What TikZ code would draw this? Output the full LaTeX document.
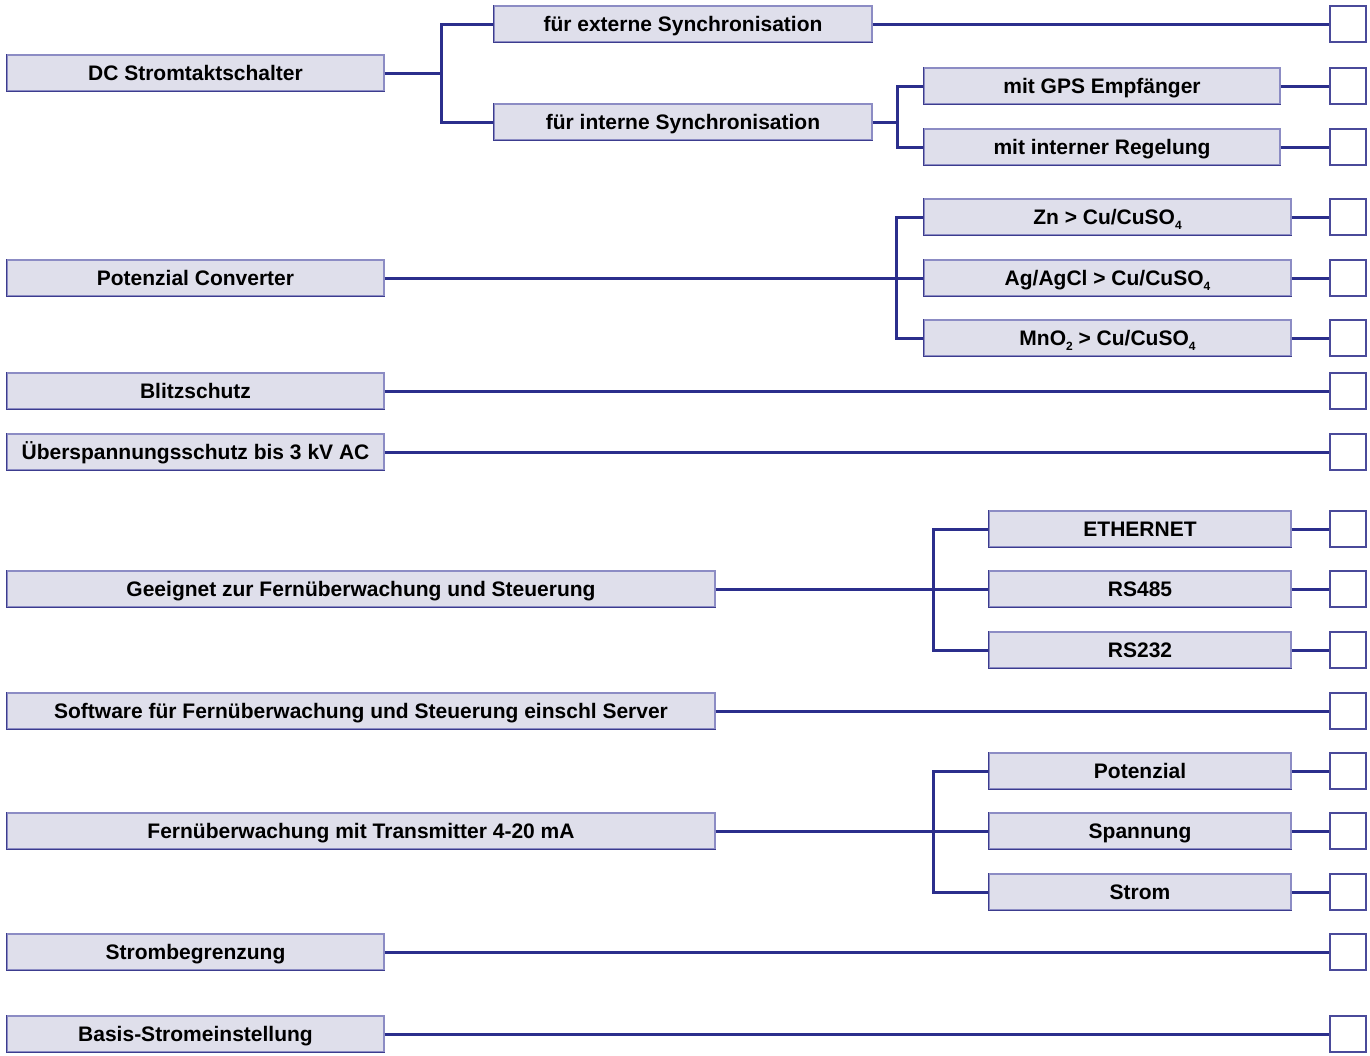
\documentclass[tikz,border=0pt]{standalone}
\usepackage{fontspec}
\setmainfont{Liberation Sans}
\usetikzlibrary{positioning}

\definecolor{boxfill}{HTML}{DFDFEB}
\definecolor{boxline}{HTML}{8C8CC4}
\definecolor{boxshade}{HTML}{3C3C8E}
\definecolor{wire}{HTML}{2B2E8C}
\definecolor{checkline}{HTML}{4A4A9A}

\newcommand{\lowidx}[1]{\raisebox{-0.45ex}{\fontsize{12}{12}\selectfont #1}}

\begin{document}
\begin{tikzpicture}[x=1pt,y=-1pt,
	main node/.style={draw=boxline,fill=boxfill,line width=1.4pt,minimum height=36pt,inner sep=0pt,text height=15pt,text depth=0pt,font=\bfseries\fontsize{21}{25}\selectfont},
	short node/.style={main node,minimum width=377pt},
	long node/.style={main node,minimum width=708pt},
	check node/.style={draw=checkline,fill=white,line width=1.4pt,minimum size=36pt,inner sep=0pt},
	shade line/.style={draw=boxshade,line width=1.4pt},
	wire line/.style={draw=wire,line width=3pt}]

	\useasboundingbox (0,0) rectangle (1370,1055);

	%main features on the left
	\begin{scope}
		\node[short node] (dc) at (195.5,73) {DC Stromtaktschalter};
		\node[short node] (pc) at (195.5,278) {Potenzial Converter};
		\node[short node] (blitz) at (195.5,391) {Blitzschutz};
		\node[short node] (ueber) at (195.5,452) {Überspannungsschutz bis 3 kV AC};
		\node[long node] (fern) at (361,589) {Geeignet zur Fernüberwachung und Steuerung};
		\node[long node] (soft) at (361,711) {Software für Fernüberwachung und Steuerung einschl Server};
		\node[long node] (trans) at (361,831) {Fernüberwachung mit Transmitter 4-20 mA};
		\node[short node] (begr) at (195.5,952) {Strombegrenzung};
		\node[short node] (basis) at (195.5,1034) {Basis-Stromeinstellung};
	\end{scope}

	%options of the features
	\begin{scope}
		\node[main node,minimum width=378pt] (ext) at (683,24) {für externe Synchronisation};
		\node[main node,minimum width=378pt] (int) at (683,122) {für interne Synchronisation};
		\node[main node,minimum width=356pt] (gps) at (1102,86) {mit GPS Empfänger};
		\node[main node,minimum width=356pt] (reg) at (1102,147) {mit interner Regelung};

		\node[main node,minimum width=367pt] (zn) at (1107.5,217) {Zn > Cu/CuSO\lowidx{4}};
		\node[main node,minimum width=367pt] (ag) at (1107.5,278) {Ag/AgCl > Cu/CuSO\lowidx{4}};
		\node[main node,minimum width=367pt] (mno) at (1107.5,338) {MnO\lowidx{2} > Cu/CuSO\lowidx{4}};

		\node[main node,minimum width=302pt] (eth) at (1140,529) {ETHERNET};
		\node[main node,minimum width=302pt] (rs485) at (1140,589) {RS485};
		\node[main node,minimum width=302pt] (rs232) at (1140,650) {RS232};

		\node[main node,minimum width=302pt] (pot) at (1140,771) {Potenzial};
		\node[main node,minimum width=302pt] (span) at (1140,831) {Spannung};
		\node[main node,minimum width=302pt] (strom) at (1140,892) {Strom};
	\end{scope}

	%darker left and lower edges of the boxes
	\foreach \n in {dc,pc,blitz,ueber,fern,soft,trans,begr,basis,ext,int,gps,reg,zn,ag,mno,eth,rs485,rs232,pot,span,strom}
		\draw[shade line] (\n.north west) -- (\n.south west) -- (\n.south east);

	%check boxes on the right
	\begin{scope}
		\node[check node] (c1) at (1348,24) {};
		\node[check node] (c2) at (1348,86) {};
		\node[check node] (c3) at (1348,147) {};
		\node[check node] (c4) at (1348,217) {};
		\node[check node] (c5) at (1348,278) {};
		\node[check node] (c6) at (1348,338) {};
		\node[check node] (c7) at (1348,391) {};
		\node[check node] (c8) at (1348,452) {};
		\node[check node] (c9) at (1348,529) {};
		\node[check node] (c10) at (1348,589) {};
		\node[check node] (c11) at (1348,650) {};
		\node[check node] (c12) at (1348,711) {};
		\node[check node] (c13) at (1348,771) {};
		\node[check node] (c14) at (1348,831) {};
		\node[check node] (c15) at (1348,892) {};
		\node[check node] (c16) at (1348,952) {};
		\node[check node] (c17) at (1348,1034) {};
	\end{scope}

	%branch points of the tree
	\coordinate (b1) at (441,73);
	\coordinate (b2) at (897,122);
	\coordinate (b3) at (896,278);
	\coordinate (b4) at (933,589);
	\coordinate (b5) at (933,831);

	%the tree lines
	\draw[wire line] (dc.east) -- (b1) |- (ext.west);
	\draw[wire line] (b1) |- (int.west);
	\draw[wire line] (int.east) -- (b2) |- (gps.west);
	\draw[wire line] (b2) |- (reg.west);

	\draw[wire line] (pc.east) -- (ag.west);
	\draw[wire line] (b3) |- (zn.west);
	\draw[wire line] (b3) |- (mno.west);

	\draw[wire line] (fern.east) -- (rs485.west);
	\draw[wire line] (b4) |- (eth.west);
	\draw[wire line] (b4) |- (rs232.west);

	\draw[wire line] (trans.east) -- (span.west);
	\draw[wire line] (b5) |- (pot.west);
	\draw[wire line] (b5) |- (strom.west);

	%lines to the check boxes
	\draw[wire line] (ext.east) -- (c1.west);
	\draw[wire line] (gps.east) -- (c2.west);
	\draw[wire line] (reg.east) -- (c3.west);
	\draw[wire line] (zn.east) -- (c4.west);
	\draw[wire line] (ag.east) -- (c5.west);
	\draw[wire line] (mno.east) -- (c6.west);
	\draw[wire line] (blitz.east) -- (c7.west);
	\draw[wire line] (ueber.east) -- (c8.west);
	\draw[wire line] (eth.east) -- (c9.west);
	\draw[wire line] (rs485.east) -- (c10.west);
	\draw[wire line] (rs232.east) -- (c11.west);
	\draw[wire line] (soft.east) -- (c12.west);
	\draw[wire line] (pot.east) -- (c13.west);
	\draw[wire line] (span.east) -- (c14.west);
	\draw[wire line] (strom.east) -- (c15.west);
	\draw[wire line] (begr.east) -- (c16.west);
	\draw[wire line] (basis.east) -- (c17.west);
\end{tikzpicture}
\end{document}
